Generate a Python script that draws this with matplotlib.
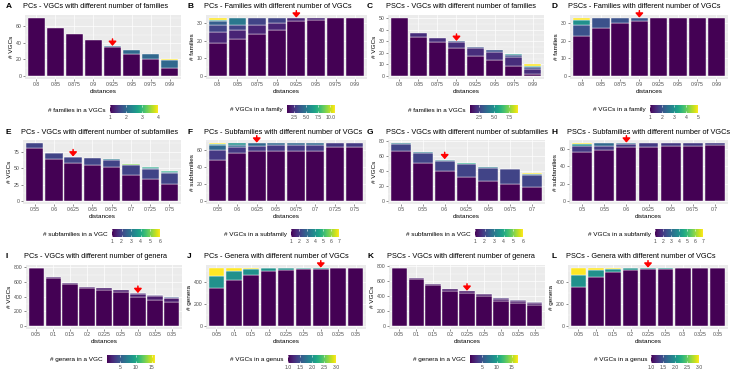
import matplotlib
matplotlib.use('Agg')
import matplotlib.pyplot as plt
import numpy as np
from matplotlib.transforms import Bbox, TransformedBbox
from matplotlib.cm import ScalarMappable
from matplotlib.colors import Normalize
from matplotlib.ticker import AutoMinorLocator

plt.rcParams['font.family'] = ['Liberation Sans', 'Arial', 'DejaVu Sans']

# ---------------- data ----------------
dist_fam = ["0.8", "0.85", "0.875", "0.9", "0.925", "0.95", "0.975", "0.99"]
dist_sub_pc = ["0.55", "0.6", "0.625", "0.65", "0.675", "0.7", "0.725", "0.75"]
dist_sub_psc = ["0.5", "0.55", "0.6", "0.625", "0.65", "0.675", "0.7"]
dist_gen = ["0.05", "0.1", "0.15", "0.2", "0.225", "0.25", "0.3", "0.325", "0.35"]

# A: PCs - VGCs with different number of families
A_values = [1, 2, 4]
A_counts = [[70, 58, 51, 43, 35, 26, 20, 10],
            [0, 0, 0, 0, 1, 5, 7, 9],
            [0, 0, 0, 0, 0, 0, 0, 1]]
# B: PCs - Families with different number of VGCs
B_values = [1, 2, 3, 4, 5, 6, 11]
B_counts = [[19, 21, 24, 26, 31, 32, 33, 33],
            [6, 5, 5, 4, 2, 1, 0, 0],
            [4, 3, 4, 3, 0, 0, 0, 0],
            [2, 0, 0, 0, 0, 0, 0, 0],
            [0, 4, 0, 0, 0, 0, 0, 0],
            [1, 0, 0, 0, 0, 0, 0, 0],
            [1, 0, 0, 0, 0, 0, 0, 0]]
# C: PSCs - VGCs with different number of families
C_values = [1, 2, 3, 5, 6, 9]
C_counts = [[50, 34, 29, 24, 17, 14, 9, 2],
            [0, 3, 4, 5, 7, 7, 7, 4],
            [0, 0, 0, 1, 1, 1, 2, 2],
            [0, 0, 0, 0, 0, 0, 1, 0],
            [0, 0, 0, 0, 0, 0, 0, 1],
            [0, 0, 0, 0, 0, 0, 0, 1]]
# D: PSCs - Families with different number of VGCs
D_values = [1, 2, 3, 5]
D_counts = [[23, 27, 30, 31, 33, 33, 33, 33],
            [6, 6, 3, 2, 0, 0, 0, 0],
            [3, 0, 0, 0, 0, 0, 0, 0],
            [1, 0, 0, 0, 0, 0, 0, 0]]
# E: PCs - VGCs with different number of subfamilies
E_values = [1, 2, 3, 4, 5, 6]
E_counts = [[80, 63, 57, 55, 51, 40, 34, 26],
            [8, 9, 9, 10, 11, 15, 15, 17],
            [0, 0, 0, 0, 1, 0, 1, 1],
            [0, 0, 0, 0, 0, 0, 1, 1],
            [0, 0, 1, 0, 0, 1, 0, 0],
            [0, 1, 0, 0, 0, 0, 0, 0]]
# F: PCs - Subfamilies with different number of VGCs
F_values = [1, 2, 3, 4, 7]
F_counts = [[48, 56, 58, 58, 58, 59, 63, 63],
            [12, 7, 6, 7, 7, 6, 5, 5],
            [5, 3, 4, 3, 3, 3, 0, 0],
            [2, 2, 0, 0, 0, 0, 0, 0],
            [1, 0, 0, 0, 0, 0, 0, 0]]
# G: PSCs - VGCs with different number of subfamilies
G_values = [1, 2, 3, 4, 5, 6]
G_counts = [[66, 50, 40, 32, 26, 23, 18],
            [10, 13, 13, 17, 18, 19, 17],
            [1, 2, 1, 0, 1, 1, 1],
            [0, 0, 0, 1, 0, 0, 0],
            [0, 0, 1, 0, 0, 0, 0],
            [0, 0, 0, 0, 0, 0, 1]]
# H: PSCs - Subfamilies with different number of VGCs
H_values = [1, 2, 3, 4, 7]
H_counts = [[57, 59, 62, 62, 64, 64, 65],
            [6, 5, 4, 5, 3, 3, 2],
            [0, 3, 1, 0, 0, 0, 0],
            [3, 0, 0, 0, 0, 0, 0],
            [1, 0, 0, 0, 0, 0, 0]]
# I: PCs - VGCs with different number of genera
I_values = [1, 2, 3, 5, 16]
I_counts = [[785, 655, 575, 515, 495, 460, 395, 360, 325],
            [5, 10, 10, 15, 20, 25, 40, 48, 50],
            [0, 0, 0, 0, 0, 0, 8, 9, 10],
            [0, 0, 0, 0, 0, 0, 2, 2, 4],
            [0, 0, 0, 0, 0, 0, 0, 1, 1]]
# J: PCs - Genera with different number of VGCs
J_values = [1, 2, 3]
J_counts = [[345, 420, 465, 495, 505, 512, 518, 522, 524],
            [110, 80, 50, 25, 18, 12, 7, 3, 1],
            [70, 25, 10, 5, 2, 1, 0, 0, 0]]
# K: PSCs - VGCs with different number of genera
K_values = [1, 2, 3, 4, 5, 17]
K_counts = [[775, 630, 545, 475, 445, 400, 335, 310, 280],
            [5, 10, 15, 20, 25, 28, 30, 33, 32],
            [0, 0, 0, 0, 0, 2, 5, 5, 5],
            [0, 0, 0, 0, 0, 0, 0, 2, 0],
            [0, 0, 0, 0, 0, 0, 0, 0, 2],
            [0, 0, 0, 0, 0, 0, 0, 0, 1]]
# L: PSCs - Genera with different number of VGCs
L_values = [1, 2, 3]
L_counts = [[355, 440, 485, 508, 515, 519, 521, 523, 524],
            [105, 65, 33, 15, 10, 6, 4, 2, 1],
            [65, 20, 7, 2, 0, 0, 0, 0, 0]]

marks = ["0.925", "0.925", "0.9", "0.9", "0.625", "0.625", "0.6", "0.6",
         "0.3", "0.3", "0.225", "0.225"]

# ---------------- layout ----------------
W, H = 734, 379
fig = plt.figure(figsize=(W / 100, H / 100), dpi=100)
cmap = plt.get_cmap('viridis')

TITLE_FS = 5.35
AXIS_FS = 4.6
TICK_FS = 3.7
GREY = '#4D4D4D'


def px_axes(l, t, r, b):
    return fig.add_axes([l / W, 1 - b / H, (r - l) / W, (b - t) / H])


letter_x = [6, 187, 367, 551]
col_clip = [(0, 185), (185, 365), (365, 549), (549, 734)]
title_y = [7, 132, 257]
cbar_top = [105, 229, 355]


def panel(row, col, letter, title, dists, values, counts, ylabel, yticks,
          legend_title, cticks, cfmt, mark, box, cbar_x):
    l, t, r, b = box
    ax = px_axes(l, t, r, b)
    ax.set_facecolor('#EBEBEB')
    norm = Normalize(min(values), max(values))
    x = np.arange(len(dists))
    bottom = np.zeros(len(dists))
    for v, c in zip(values, counts):
        c = np.array(c, float)
        m = c > 0
        ax.bar(x[m], c[m], bottom=bottom[m], width=0.9, color=cmap(norm(v)),
               edgecolor='white', linewidth=0.3, zorder=3)
        bottom += c
    ymax = bottom.max()
    ax.set_ylim(-0.05 * ymax, 1.05 * ymax)
    ax.set_xlim(-0.6, len(dists) - 0.4)
    ax.set_xticks(x)
    ax.set_xticklabels(dists)
    ax.set_yticks(yticks)
    ax.yaxis.set_minor_locator(AutoMinorLocator(2))
    ax.set_axisbelow(True)
    ax.grid(True, which='major', color='white', linewidth=0.5)
    ax.grid(True, which='minor', axis='y', color='white', linewidth=0.25)
    for s in ax.spines.values():
        s.set_visible(False)
    ax.tick_params(which='major', length=1.5, width=0.4, color='#333333',
                   labelsize=TICK_FS, labelcolor=GREY, pad=1)
    ax.tick_params(which='minor', length=0)
    ax.set_xlabel('distances', fontsize=AXIS_FS, labelpad=1)
    ax.set_ylabel(ylabel, fontsize=AXIS_FS, labelpad=1.5)

    # red arrow
    idx = dists.index(mark)
    ax.annotate('', xy=(idx, bottom[idx] + 0.005 * ymax), xytext=(0, 5),
                textcoords='offset points',
                arrowprops=dict(arrowstyle='-|>,head_width=0.45,head_length=0.5',
                                color='red', lw=1.1, mutation_scale=5,
                                shrinkA=0, shrinkB=0))

    # title + letter
    clipbox = TransformedBbox(Bbox([[col_clip[col][0] / W, 0], [col_clip[col][1] / W, 1]]),
                              fig.transFigure)
    tt = fig.text((l - 2) / W, 1 - title_y[row] / H, title, ha='left', va='center',
                  fontsize=TITLE_FS)
    tt.set_clip_box(clipbox)
    tt.set_clip_on(True)
    fig.text(letter_x[col] / W, 1 - title_y[row] / H, letter, ha='left', va='center',
             fontsize=6, fontweight='bold')

    # colourbar legend
    ct = cbar_top[row]
    cax = px_axes(cbar_x, ct, cbar_x + 48, ct + 8)
    cb = fig.colorbar(ScalarMappable(norm=norm, cmap=cmap), cax=cax,
                      orientation='horizontal')
    cb.outline.set_visible(False)
    cb.set_ticks(cticks)
    cb.set_ticklabels([cfmt.format(v) for v in cticks])
    cax.tick_params(axis='x', direction='in', length=1.6, width=0.4, colors='white',
                    labelcolor=GREY, labelsize=TICK_FS, pad=1.5, top=True)
    fig.text((cbar_x - 4) / W, 1 - (ct + 5) / H, legend_title, ha='right',
             va='center', fontsize=AXIS_FS)


panel(0, 0, 'A', 'PCs - VGCs with different number of families', dist_fam, A_values,
      A_counts, '# VGCs', [0, 20, 40, 60], '# families in a VGCs', [1, 2, 3, 4], '{:.0f}',
      marks[0], (25, 15, 181, 79), 110)
panel(0, 1, 'B', 'PCs - Families with different number of VGCs', dist_fam, B_values,
      B_counts, '# families', [0, 10, 20, 30], '# VGCs in a family', [2.5, 5.0, 7.5, 10.0],
      '{:.1f}', marks[1], (206, 15, 367, 79), 287)
panel(0, 2, 'C', 'PSCs - VGCs with different number of families', dist_fam, C_values,
      C_counts, '# VGCs', [0, 10, 20, 30, 40, 50], '# families in a VGCs', [2.5, 5.0, 7.5],
      '{:.1f}', marks[2], (388, 15, 544, 79), 470)
panel(0, 3, 'D', 'PSCs - Families with different number of VGCs', dist_fam, D_values,
      D_counts, '# families', [0, 10, 20, 30], '# VGCs in a family', [1, 2, 3, 4, 5],
      '{:.0f}', marks[3], (570, 15, 728, 79), 650)

panel(1, 0, 'E', 'PCs - VGCs with different number of subfamilies', dist_sub_pc, E_values,
      E_counts, '# VGCs', [0, 25, 50, 75], '# subfamilies in a VGC', [1, 2, 3, 4, 5, 6],
      '{:.0f}', marks[4], (23, 140, 181, 204), 112)
panel(1, 1, 'F', 'PCs - Subfamilies with different number of VGCs', dist_sub_pc, F_values,
      F_counts, '# subfamilies', [0, 20, 40, 60], '# VGCs in a subfamily',
      [1, 2, 3, 4, 5, 6, 7], '{:.0f}', marks[5], (206, 140, 366, 204), 291)
panel(1, 2, 'G', 'PSCs - VGCs with different number of subfamilies', dist_sub_psc, G_values,
      G_counts, '# VGCs', [0, 20, 40, 60, 80], '# subfamilies in a VGC', [1, 2, 3, 4, 5, 6],
      '{:.0f}', marks[6], (388, 140, 545, 204), 475)
panel(1, 3, 'H', 'PSCs - Subfamilies with different number of VGCs', dist_sub_psc, H_values,
      H_counts, '# subfamilies', [0, 20, 40, 60], '# VGCs in a subfamily',
      [1, 2, 3, 4, 5, 6, 7], '{:.0f}', marks[7], (569, 140, 728, 204), 655)

panel(2, 0, 'I', 'PCs - VGCs with different number of genera', dist_gen, I_values,
      I_counts, '# VGCs', [0, 200, 400, 600, 800], '# genera in a VGC', [5, 10, 15],
      '{:.0f}', marks[8], (26, 265, 182, 329), 107)
panel(2, 1, 'J', 'PCs - Genera with different number of VGCs', dist_gen, J_values,
      J_counts, '# genera', [0, 200, 400], '# VGCs in a genus', [1.0, 1.5, 2.0, 2.5, 3.0],
      '{:.1f}', marks[9], (206, 265, 366, 329), 288)
panel(2, 2, 'K', 'PSCs - VGCs with different number of genera', dist_gen, K_values,
      K_counts, '# VGCs', [0, 200, 400, 600, 800], '# genera in a VGC', [5, 10, 15],
      '{:.0f}', marks[10], (389, 265, 545, 329), 470)
panel(2, 3, 'L', 'PSCs - Genera with different number of VGCs', dist_gen, L_values,
      L_counts, '# genera', [0, 200, 400], '# VGCs in a genus', [1.0, 1.5, 2.0, 2.5, 3.0],
      '{:.1f}', marks[11], (568, 265, 728, 329), 651)

fig.savefig('out.png', dpi=100)
